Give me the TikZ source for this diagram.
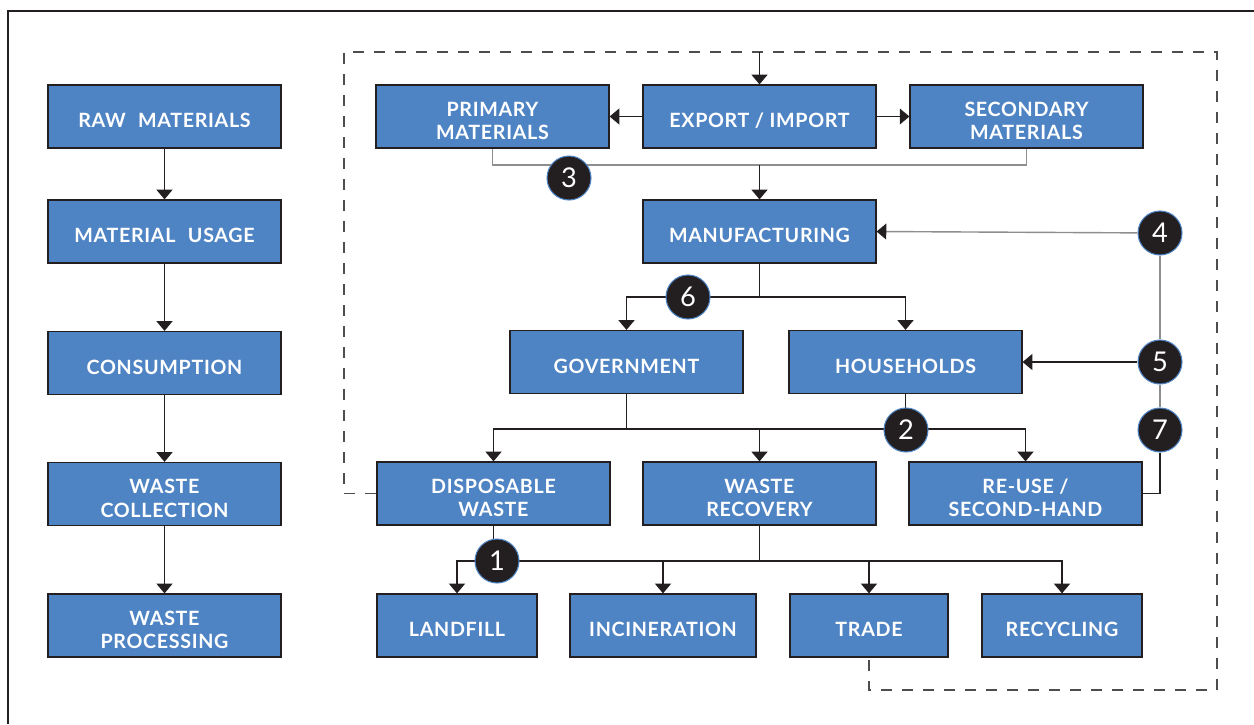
\documentclass[tikz,border=0pt]{standalone}
\usepackage{fontspec}
\setmainfont{Lato}[LetterSpace=3.5]
\usepackage{xcolor}
\usetikzlibrary{arrows.meta}

\definecolor{boxblue}{HTML}{4F84C4}
\definecolor{ink}{HTML}{231F20}
\definecolor{rule}{HTML}{8E8E8E}

% lettering sits a little below the middle of each box
\newcommand{\boxlabel}[1]{\raisebox{-3.8pt}[\height][\depth]{\begin{tabular}{@{}c@{}}#1\end{tabular}}}

\begin{document}
\begin{tikzpicture}[
		x=0.02cm, y=-0.02cm,
		>={Triangle[width=9pt,length=5.5pt]},
		block/.style={
			draw=ink,
			line width=0.7pt,
			fill=boxblue,
			rectangle,
			minimum width=4.66cm,
			minimum height=1.26cm,
			inner sep=2pt,
			text=white,
			font=\bfseries\fontsize{11.2}{13.6}\selectfont
		},
		marker/.style={
			circle,
			draw=boxblue,
			line width=0.6pt,
			fill=ink,
			minimum size=0.88cm,
			inner sep=0pt,
			text=white,
			font=\fontsize{15.5}{15.5}\selectfont
		},
		link/.style={draw=ink, line width=0.9pt},
		thin link/.style={draw=rule, line width=0.8pt},
		loop line/.style={draw=ink!80, line width=0.6pt, dash pattern=on 0.22cm off 0.2cm}
		]
		\useasboundingbox (0,0) rectangle (1254,724);
		
		% Frame
		\draw[ink, line width=1.1pt] (8,724) -- (8,11) -- (1254,11);
		
		% Left column
		\node[block] (raw) at (164.5,116.5) {\boxlabel{RAW\hspace{0.35em} MATERIALS}};
		\node[block] (usage) at (164.5,231.5) {\boxlabel{MATERIAL\hspace{0.35em} USAGE}};
		\node[block] (consume) at (164.5,363) {\boxlabel{CONSUMPTION}};
		\node[block] (collect) at (164.5,494) {\boxlabel{WASTE\\COLLECTION}};
		\node[block] (process) at (164.5,625.5) {\boxlabel{WASTE\\PROCESSING}};
		
		\foreach \a/\b in {raw/usage, usage/consume, consume/collect, collect/process}
		\draw[link,->] (\a) -- (\b);
		
		% Material flow
		\node[block] (primary) at (492.5,116.5) {\boxlabel{PRIMARY\\MATERIALS}};
		\node[block] (exim) at (759.5,116.5) {\boxlabel{EXPORT / IMPORT}};
		\node[block] (secondary) at (1026.5,116.5) {\boxlabel{SECONDARY\\MATERIALS}};
		\node[block] (manuf) at (759.5,231.5) {\boxlabel{MANUFACTURING}};
		\node[block] (gov) at (626.5,362) {\boxlabel{GOVERNMENT}};
		\node[block] (house) at (905.5,362) {\boxlabel{HOUSEHOLDS}};
		\node[block] (disposal) at (493.5,493.5) {\boxlabel{DISPOSABLE\\WASTE}};
		\node[block] (recovery) at (759.5,493.5) {\boxlabel{WASTE\\RECOVERY}};
		\node[block] (reuse) at (1025.5,493.5) {\boxlabel{RE-USE /\\SECOND-HAND}};
		\node[block, minimum width=3.2cm] (landfill) at (457,625.5) {\boxlabel{LANDFILL}};
		\node[block, minimum width=3.72cm] (incin) at (663,625.5) {\boxlabel{INCINERATION}};
		\node[block, minimum width=3.16cm] (tradebox) at (869,625.5) {\boxlabel{TRADE}};
		\node[block, minimum width=3.2cm] (recycle) at (1062,625.5) {\boxlabel{RECYCLING}};
		
		% Dashed return loop
		\coordinate (dashNW) at (344,52);
		\coordinate (dashNE) at (1217,52);
		\coordinate (dashSE) at (1217,690);
		\draw[loop line] (disposal.west) -| (dashNW) -- (dashNE) -- (dashSE) -| (tradebox.south);
		\draw[link,->] (exim.north |- dashNW) -- (exim.north);
		
		% Export / import
		\draw[link,->] (exim) -- (primary);
		\draw[link,->] (exim) -- (secondary);
		\coordinate (join3) at (759.5,165);
		\draw[thin link] (primary.south) |- (join3) -| (secondary.south);
		\draw[link,->] (join3) -- (manuf.north);
		
		% Manufacturing to users
		\coordinate (join6) at (759.5,297);
		\draw[link] (manuf.south) -- (join6);
		\draw[link,->] (join6) -| (gov.north);
		\draw[link,->] (join6) -| (house.north);
		
		% Users to waste
		\coordinate (join2) at (905.5,429);
		\draw[link] (gov.south) |- (join2);
		\draw[link] (house.south) -- (join2);
		\draw[link,->] (join2) -| (disposal.north);
		\draw[link,->] (join2) -| (reuse.north);
		\draw[link,->] (recovery.north |- join2) -- (recovery.north);
		
		% Waste treatment
		\coordinate (join1) at (493.5,561);
		\draw[link] (disposal.south) -- (join1);
		\draw[link] (recovery.south) |- (join1);
		\draw[link,->] (join1) -| (landfill.north);
		\draw[link,->] (join1) -| (recycle.north);
		\draw[link,->] (incin.north |- join1) -- (incin.north);
		\draw[link,->] (tradebox.north |- join1) -- (tradebox.north);
		
		% Numbered markers
		\node[marker] (m3) at (569,178) {3};
		\node[marker] (m6) at (688,297) {6};
		\node[marker] (m2) at (906,430) {2};
		\node[marker] (m1) at (497,561) {1};
		\node[marker] (m4) at (1160,233) {4};
		\node[marker] (m5) at (1160,362) {5};
		\node[marker] (m7) at (1160,430) {7};
		
		% Feedback column
		\draw[thin link, -{Triangle[width=9pt,length=5.5pt,color=ink]}] (m4) -- (manuf.east);
		\draw[link,->] (m5) -- (house.east);
		\draw[thin link] (m4) -- (m5);
		\draw[thin link] (m5) -- (m7);
		\draw[ink, line width=0.7pt] (m7) |- (reuse.east);
	\end{tikzpicture}
\end{document}
